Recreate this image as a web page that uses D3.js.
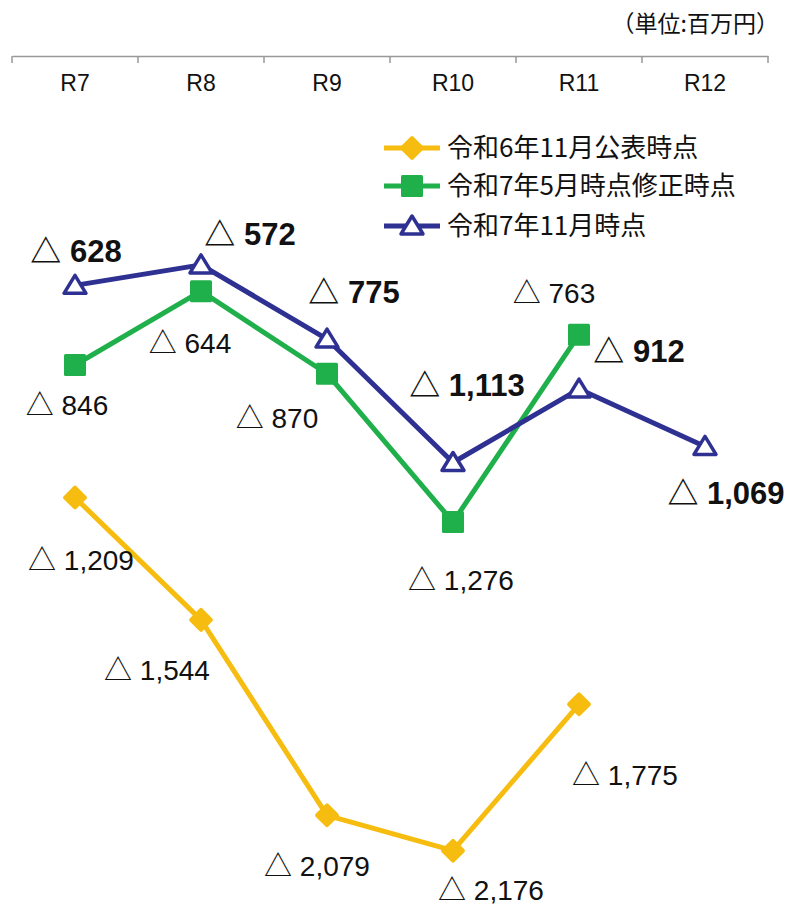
<!DOCTYPE html>
<html>
<head>
<meta charset="utf-8">
<script src="https://cdn.jsdelivr.net/npm/d3@7"></script>
<style>
  body { margin: 0; background: #fff; }
  text { font-family: "Liberation Sans", Arial, "Noto Sans CJK JP", sans-serif; }
  .jp { font-family: "Noto Sans CJK JP", "Liberation Sans", sans-serif; }
</style>
</head>
<body>
<div id="chart"></div>
<script>
const width = 795;
const height = 909;

// data
const years = ["R7", "R8", "R9", "R10", "R11", "R12"];
const seriesNames = ["令和6年11月公表時点", "令和7年5月時点修正時点", "令和7年11月時点"];
const plan2411 = [-1209, -1544, -2079, -2176, -1775];
const plan2505 = [-846, -644, -870, -1276, -763];
const plan2511 = [-628, -572, -775, -1113, -912, -1069];
const unitLabel = "（単位:百万円）";

// label offsets from each point (center x, baseline y)
const offsets = [
  [[6, 72], [-44, 60], [-10, 61], [38, 49], [46, 81]],
  [[-8, 50], [-11, 62], [-50, 54], [8, 68], [-25, -32]],
  [[1, -23], [49, -20], [27, -36], [14, -66], [60, -27], [21, 58]]
];

const colors = ["#F6BD10", "#1FB04B", "#2E3192"];

const svg = d3.select("#chart")
  .append("svg")
  .attr("width", width)
  .attr("height", height);

const x = d3.scaleBand()
  .domain(years)
  .range([12, 768]);

const y = d3.scaleLinear()
  .domain([0, -2300])
  .range([56, 896]);

// axis along the top (zero line)
const axisY = y(0);
svg.append("g")
  .attr("transform", `translate(0, ${axisY})`)
  .call(d3.axisBottom(x).tickSize(0).tickPadding(19))
  .call(g => g.select(".domain").attr("stroke", "#999").attr("stroke-width", 1.5))
  .call(g => g.selectAll(".tick text")
    .style("font-size", "23px")
    .style("font-family", "'Liberation Sans', Arial, sans-serif")
    .attr("fill", "#111"));

const bounds = years.map(d => x(d)).concat([x.range()[1]]);
svg.append("g")
  .selectAll("line")
  .data(bounds)
  .join("line")
  .attr("x1", d => d)
  .attr("x2", d => d)
  .attr("y1", axisY)
  .attr("y2", axisY + 7)
  .attr("stroke", "#999")
  .attr("stroke-width", 1.5);

svg.append("text")
  .attr("class", "jp")
  .attr("x", 779)
  .attr("y", 32)
  .attr("text-anchor", "end")
  .attr("font-size", 23)
  .attr("fill", "#111")
  .text(unitLabel);

const cx = i => x(years[i]) + x.bandwidth() / 2;
const line = d3.line().x((d, i) => cx(i)).y(d => y(d));

const allSeries = [plan2411, plan2505, plan2511];

// lines
allSeries.forEach((vals, s) => {
  svg.append("path")
    .datum(vals)
    .attr("fill", "none")
    .attr("stroke", colors[s])
    .attr("stroke-width", 5)
    .attr("stroke-linejoin", "round")
    .attr("d", line);
});

function drawMarker(g, s, px, py) {
  if (s === 0) {
    g.append("rect")
      .attr("x", px - 9).attr("y", py - 9)
      .attr("width", 18).attr("height", 18)
      .attr("rx", 2)
      .attr("fill", colors[0])
      .attr("transform", `rotate(45, ${px}, ${py})`);
  } else if (s === 1) {
    g.append("rect")
      .attr("x", px - 11).attr("y", py - 11)
      .attr("width", 22).attr("height", 22)
      .attr("rx", 1.5)
      .attr("fill", colors[1]);
  } else {
    g.append("path")
      .attr("d", `M${px},${py - 10}L${px + 11},${py + 8}L${px - 11},${py + 8}Z`)
      .attr("fill", "#fff")
      .attr("stroke", colors[2])
      .attr("stroke-width", 3.5)
      .attr("stroke-linejoin", "round");
  }
}

const markers = svg.append("g");
allSeries.forEach((vals, s) => {
  vals.forEach((v, i) => drawMarker(markers, s, cx(i), y(v)));
});

// value labels
const fmt = d3.format(",");
allSeries.forEach((vals, s) => {
  svg.append("g")
    .selectAll("text")
    .data(vals)
    .join("text")
    .attr("x", (d, i) => cx(i) + offsets[s][i][0])
    .attr("y", (d, i) => y(d) + offsets[s][i][1])
    .attr("text-anchor", "middle")
    .attr("font-size", s === 2 ? 31 : 28)
    .attr("font-weight", s === 2 ? "bold" : "normal")
    .attr("fill", "#111")
    .text(d => "△ " + fmt(-d));
});

// legend
const legend = svg.append("g").attr("transform", "translate(384, 148)");
seriesNames.forEach((name, s) => {
  const g = legend.append("g").attr("transform", `translate(0, ${[0, 38, 78][s]})`);
  g.append("line")
    .attr("x1", 0).attr("x2", 56)
    .attr("stroke", colors[s])
    .attr("stroke-width", 5);
  drawMarker(g, s, 28, 0);
  g.append("text")
    .attr("class", "jp")
    .attr("x", 63)
    .attr("y", 0)
    .attr("dy", "0.36em")
    .attr("font-size", 26)
    .attr("fill", "#111")
    .text(name);
});
</script>
</body>
</html>
